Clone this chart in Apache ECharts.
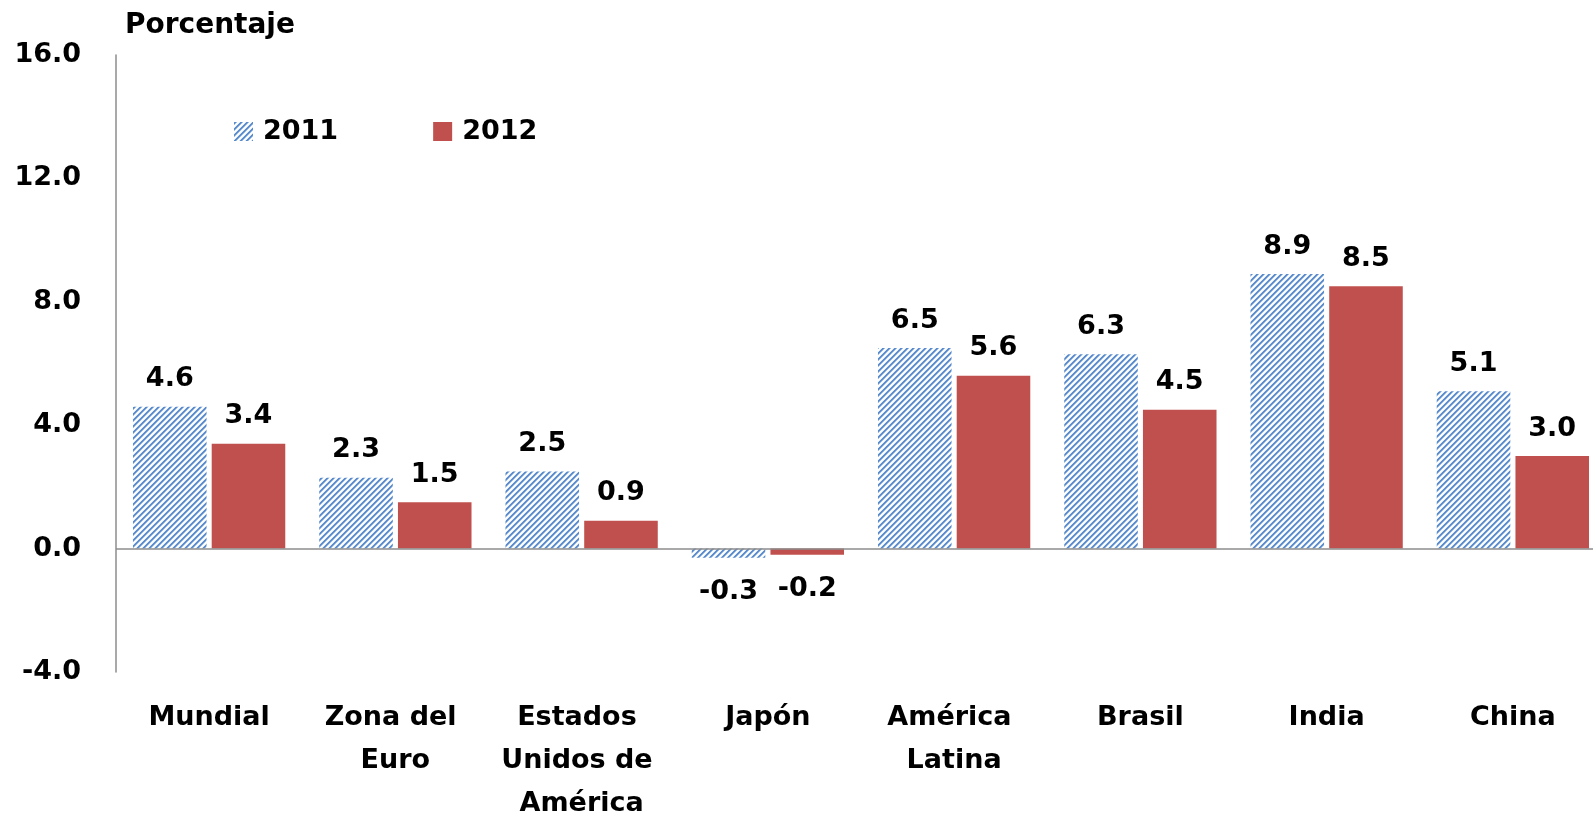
<!DOCTYPE html>
<html>
<head>
<meta charset="utf-8">
<script src="https://cdn.jsdelivr.net/npm/echarts@6/dist/echarts.min.js"></script>
<style>
html,body{margin:0;padding:0;background:#fff;overflow:hidden;}
#chart{width:1593px;height:816px;}
</style>
</head>
<body>
<div id="chart"></div>
<script>
const categories = ['Mundial', 'Zona del Euro', 'Estados Unidos de América', 'Japón', 'América Latina', 'Brasil', 'India', 'China'];
const values2011 = [4.6, 2.3, 2.5, -0.3, 6.5, 6.3, 8.9, 5.1];
const values2012 = [3.4, 1.5, 0.9, -0.2, 5.6, 4.5, 8.5, 3.0];
const seriesNames = ['2011', '2012'];
const yTicks = { min: -4, max: 16, interval: 4 };
const axisTitle = 'Porcentaje';

const FONT = '"DejaVu Sans", Verdana, sans-serif';

// Hatch pattern (///) for 2011
function makeHatch() {
  const n = 6;
  const c = document.createElement('canvas');
  c.width = n; c.height = n;
  const ctx = c.getContext('2d');
  const img = ctx.createImageData(n, n);
  for (let y = 0; y < n; y++) {
    for (let x = 0; x < n; x++) {
      const i = (y * n + x) * 4;
      const k = (x + y) % n;
      let r = 255, g = 255, b = 255;
      if (k === 0 || k === 1) { r = 92; g = 140; b = 204; }
      else if (k === 2) { r = 160; g = 192; b = 232; }
      else if (k === 5) { r = 222; g = 233; b = 247; }
      img.data[i] = r; img.data[i + 1] = g; img.data[i + 2] = b; img.data[i + 3] = 255;
    }
  }
  ctx.putImageData(img, 0, 0);
  return c;
}
const hatch = { image: makeHatch(), repeat: 'repeat' };

function toData(vals) {
  return vals.map(v => ({
    value: v,
    label: v < 0 ? { position: 'bottom', distance: 21 } : { position: 'top', distance: 14 }
  }));
}

const labelStyle = {
  show: true,
  fontFamily: FONT,
  fontWeight: 'bold',
  fontSize: 27,
  color: '#000',
  formatter: p => p.value.toFixed(1)
};

const chart = echarts.init(document.getElementById('chart'), null, { renderer: 'canvas' });
chart.setOption({
  animation: false,
  backgroundColor: '#fff',
  title: {
    text: axisTitle,
    left: 120,
    top: 7,
    textStyle: { fontFamily: FONT, fontWeight: 'bold', fontSize: 28, color: '#000' }
  },
  legend: {
    left: 229,
    top: 113,
    icon: 'rect',
    itemWidth: 19,
    itemHeight: 19,
    itemGap: 95,
    textStyle: { fontFamily: FONT, fontWeight: 'bold', fontSize: 27, color: '#000', padding: [0, 0, 0, 5] },
    data: seriesNames
  },
  grid: { left: 116, width: 1490, top: 55, height: 617, containLabel: false, outerBoundsMode: 'none' },
  xAxis: {
    type: 'category',
    data: categories,
    axisLine: { show: false, onZero: false },
    axisTick: { show: false },
    axisLabel: {
      interval: 0,
      margin: 24,
      width: 178,
      overflow: 'break',
      lineHeight: 43,
      fontFamily: FONT,
      fontWeight: 'bold',
      fontSize: 27,
      color: '#000'
    }
  },
  yAxis: {
    type: 'value',
    min: yTicks.min,
    max: yTicks.max,
    interval: yTicks.interval,
    axisLine: { show: true, lineStyle: { color: '#8c8c8c', width: 1.5 } },
    axisTick: { show: false },
    splitLine: { show: false },
    axisLabel: {
      margin: 35,
      fontFamily: FONT,
      fontWeight: 'bold',
      fontSize: 27,
      color: '#000',
      formatter: v => v.toFixed(1)
    }
  },
  series: [
    {
      name: seriesNames[0],
      type: 'bar',
      data: toData(values2011),
      barWidth: '39.5%',
      barGap: '7%',
      itemStyle: { color: hatch },
      label: labelStyle,
      markLine: {
        silent: true,
        symbol: 'none',
        label: { show: false },
        lineStyle: { color: '#8c8c8c', width: 1.5, type: 'solid' },
        data: [{ yAxis: 0 }]
      }
    },
    {
      name: seriesNames[1],
      type: 'bar',
      data: toData(values2012),
      barWidth: '39.5%',
      itemStyle: { color: '#C0504D' },
      label: labelStyle
    }
  ]
});
</script>
</body>
</html>
